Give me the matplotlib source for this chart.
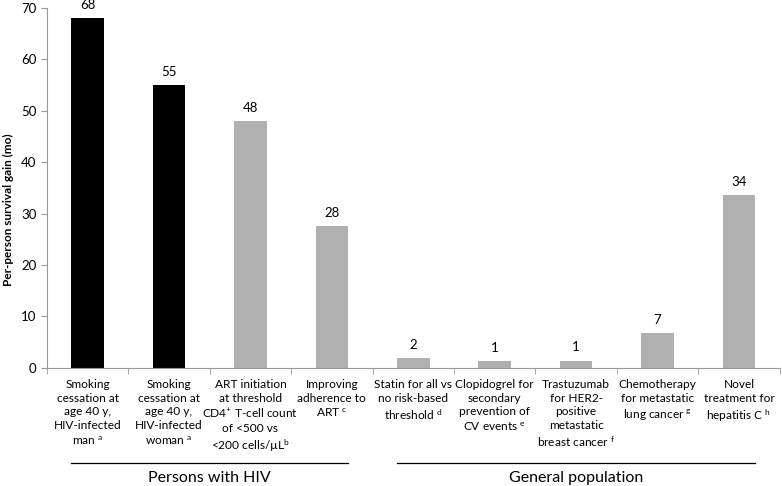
import numpy as np
import matplotlib.pyplot as plt
import matplotlib.transforms as mtransforms

plt.rcParams['font.family'] = ['Lato', 'DejaVu Sans']
plt.rcParams['mathtext.fontset'] = 'custom'
plt.rcParams['mathtext.rm'] = 'Lato'
plt.rcParams['mathtext.it'] = 'Lato'

categories = [
    "Smoking\ncessation at\nage 40 y,\nHIV-infected\nman $^{\\mathrm{a}}$",
    "Smoking\ncessation at\nage 40 y,\nHIV-infected\nwoman $^{\\mathrm{a}}$",
    "ART initiation\nat threshold\nCD4$^{+}$ T-cell count\nof <500 vs\n<200 cells/\u00b5L$^{\\mathrm{b}}$",
    "Improving\nadherence to\nART $^{\\mathrm{c}}$",
    "Statin for all vs\nno risk-based\nthreshold $^{\\mathrm{d}}$",
    "Clopidogrel for\nsecondary\nprevention of\nCV events $^{\\mathrm{e}}$",
    "Trastuzumab\nfor HER2-\npositive\nmetastatic\nbreast cancer $^{\\mathrm{f}}$",
    "Chemotherapy\nfor metastatic\nlung cancer $^{\\mathrm{g}}$",
    "Novel\ntreatment for\nhepatitis C $^{\\mathrm{h}}$",
]
gains = [68, 55, 48, 27.6, 1.9, 1.3, 1.4, 6.8, 33.6]
bar_colors = ["black", "black"] + ["#b0b0b0"] * 7
groups = ["Persons with HIV", "General population"]
group_spans = [(0, 3), (4, 8)]

fig = plt.figure(figsize=(7.82, 4.86), dpi=100)
ax = fig.add_axes([0.060, 0.243, 0.937, 0.741])

x = np.arange(len(categories))
width = 0.4
ax.bar(x, gains, width=width, color=bar_colors)
for xi, v in zip(x, gains):
    ax.text(xi, v + 2.6, f"{v:.0f}", ha="center", va="center", fontsize=9.5)

ax.set_xlim(-0.5, len(categories) - 0.5)
ax.set_ylim(0, 70)
ax.set_yticks(range(0, 71, 10))
ax.set_xticks(x)
ax.set_xticklabels(categories, fontsize=8.6, linespacing=1.3, va="top")
ax.set_xticks(np.arange(len(categories) + 1) - 0.5, minor=True)
ax.tick_params(axis="x", which="major", length=0, pad=8)
ax.tick_params(axis="x", which="minor", length=4, direction="out", color="#999999")
ax.tick_params(axis="y", length=4, direction="out", color="#999999", labelsize=9.5)
ax.set_ylabel("Per-person survival gain (mo)", fontsize=8.5, fontweight="bold")
ax.yaxis.set_label_coords(-0.045, 0.44)

for side in ["top", "right"]:
    ax.spines[side].set_visible(False)
for side in ["left", "bottom"]:
    ax.spines[side].set_color("#999999")

trans = mtransforms.blended_transform_factory(ax.transData, ax.transAxes)
for name, (a, b) in zip(groups, group_spans):
    ax.plot([a - width / 2, b + width / 2], [-0.264, -0.264], color="black", lw=0.9,
            transform=trans, clip_on=False)
    ax.text((a + b) / 2, -0.287, name, ha="center", va="top", fontsize=11.5, transform=trans)

fig.savefig("out.png", dpi=100)
